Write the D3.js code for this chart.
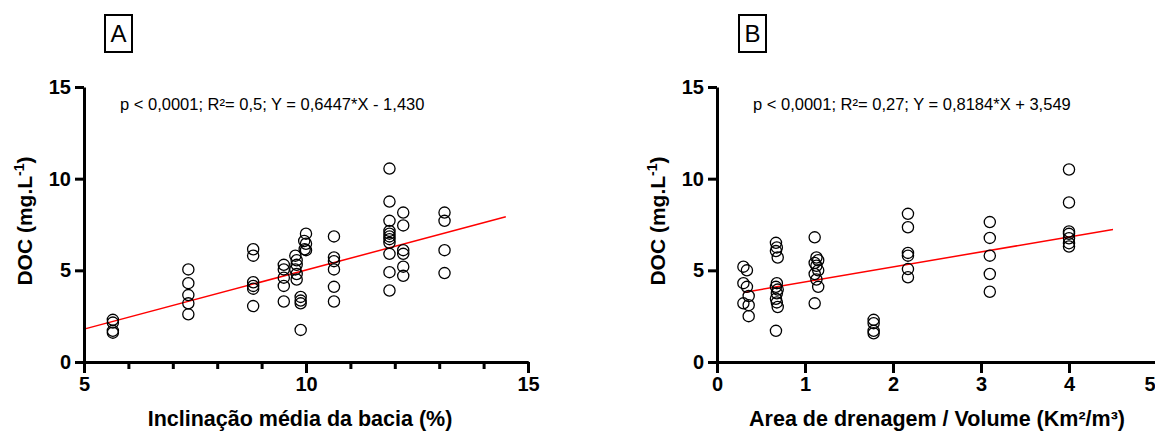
<!DOCTYPE html>
<html>
<head>
<meta charset="utf-8">
<script src="https://cdn.jsdelivr.net/npm/d3@7"></script>
<style>
  body { margin: 0; background: #fff; }
  text { font-family: Arial, "Liberation Sans", sans-serif; }
</style>
</head>
<body>
<div id="chart-area"></div>
<script>
// Panel A data: mean basin slope (%) vs DOC
var slopeA = [5.65, 5.65, 5.65, 5.65,
  7.35, 7.35, 7.35, 7.35, 7.35,
  8.81, 8.81, 8.81, 8.81, 8.81, 8.81,
  9.50, 9.50, 9.50, 9.50, 9.50,
  9.76, 9.79, 9.79, 9.76, 9.79, 9.79,
  9.88, 9.88, 9.88, 9.88,
  10.0, 9.96, 10.0, 9.97, 10.0,
  10.63, 10.63, 10.63, 10.63, 10.63, 10.63,
  11.88, 11.88, 11.88, 11.88, 11.88, 11.88, 11.88, 11.88, 11.88, 11.88, 11.88,
  12.19, 12.19, 12.19, 12.19, 12.19, 12.19,
  13.12, 13.12, 13.12, 13.12];
var docA = [2.3, 2.15, 1.7, 1.6,
  5.05, 4.3, 3.65, 3.2, 2.6,
  6.15, 5.8, 4.35, 4.15, 4.0, 3.05,
  5.3, 5.05, 4.6, 4.15, 3.3,
  5.8, 5.55, 5.3, 5.05, 4.8, 4.5,
  3.55, 3.35, 3.2, 1.75,
  7.0, 6.6, 6.45, 6.15, 6.1,
  6.85, 5.7, 5.5, 5.05, 4.1, 3.3,
  10.55, 8.75, 7.7, 7.15, 7.0, 6.85, 6.7, 6.5, 5.9, 4.9, 3.9,
  8.15, 7.45, 6.1, 5.9, 5.2, 4.7,
  8.15, 7.7, 6.1, 4.85];

// Panel B data: drainage area / volume vs DOC
var ratioB = [0.30, 0.34, 0.30, 0.34, 0.36, 0.30, 0.36, 0.36,
  0.67, 0.68, 0.67, 0.69, 0.68, 0.67, 0.69, 0.68, 0.67, 0.68, 0.69, 0.67,
  1.11, 1.13, 1.15, 1.11, 1.13, 1.15, 1.11, 1.13, 1.15, 1.11,
  1.78, 1.78, 1.78, 1.78,
  2.17, 2.17, 2.17, 2.17, 2.17, 2.17,
  3.10, 3.10, 3.10, 3.10, 3.10,
  4.00, 4.00, 4.00, 4.00, 4.00, 4.00, 4.00];
var docB = [5.2, 5.0, 4.3, 4.1, 3.6, 3.2, 3.1, 2.5,
  6.5, 6.25, 6.05, 5.7, 4.3, 4.1, 3.95, 3.75, 3.45, 3.25, 3.0, 1.7,
  6.8, 5.7, 5.55, 5.4, 5.25, 5.0, 4.8, 4.5, 4.1, 3.2,
  2.3, 2.12, 1.7, 1.57,
  8.08, 7.35, 5.95, 5.8, 5.07, 4.62,
  7.63, 6.77, 5.8, 4.8, 3.83,
  10.5, 8.7, 7.12, 6.99, 6.75, 6.48, 6.3];

// regression lines (slope, intercept, x start, x end)
var fitA = [0.6447, -1.430, 5, 14.5];
var fitB = [0.8184, 3.549, 0.3, 4.5];

var yTicks = [0, 5, 10, 15];
var xTicksA = [5, 10, 15];
var xMinorA = [6, 7, 8, 9, 11, 12, 13, 14];
var xTicksB = [0, 1, 2, 3, 4, 5];

var width = 1155;
var height = 436;

var svg = d3.select("#chart-area").append("svg").attr("width", width).attr("height", height);

var y = d3.scaleLinear().domain([0, 15]).range([362, 87]);

drawPanel = (p) => {
  var x = d3.scaleLinear().domain(p.domain).range(p.range);
  var g = svg.append("g");

  // panel letter box
  g.append("rect").attr("x", p.boxX).attr("y", 15).attr("width", 27).attr("height", 37)
    .attr("fill", "none").attr("stroke", "black").attr("stroke-width", 2);
  g.append("text").attr("x", p.boxX + 13.5).attr("y", 42).attr("text-anchor", "middle")
    .attr("font-size", "24px").text(p.letter);

  // regression line
  var f = p.fit;
  g.append("line").attr("x1", x(f[2])).attr("y1", y(f[0] * f[2] + f[1]))
    .attr("x2", x(f[3])).attr("y2", y(f[0] * f[3] + f[1]))
    .attr("stroke", "red").attr("stroke-width", 1.5);

  // points
  g.selectAll("circle.pt").data(p.xs).enter().append("circle").attr("class", "pt")
    .attr("cx", (d) => { return x(d); })
    .attr("cy", (d, i) => { return y(p.ys[i]); })
    .attr("r", 5.6).attr("fill", "none").attr("stroke", "black").attr("stroke-width", 1.3);

  // axes
  g.append("g").attr("transform", "translate(" + p.range[0] + ",0)")
    .call(d3.axisLeft(y).tickValues(yTicks).tickSize(9).tickSizeOuter(0).tickPadding(4));
  if (p.minor) {
    g.append("g").attr("transform", "translate(0," + y(0) + ")")
      .call(d3.axisBottom(x).tickValues(p.minor).tickSize(7).tickSizeOuter(0).tickFormat(""));
  }
  var xAxis = g.append("g").attr("transform", "translate(0," + y(0) + ")")
    .call(d3.axisBottom(x).tickValues(p.ticks).tickSize(11).tickSizeOuter(0).tickPadding(4)
      .tickFormat(d3.format("d")));
  g.selectAll(".domain").attr("stroke-width", 3).attr("stroke", "black");
  g.selectAll(".tick line").attr("stroke-width", 3).attr("stroke", "black");
  g.selectAll(".tick text").attr("font-family", "Arial, 'Liberation Sans', sans-serif")
    .attr("font-size", "20px").attr("font-weight", "bold").attr("fill", "black");
  // last label would run past the page edge: pull it inside
  xAxis.selectAll(".tick text").filter((d) => { return x(d) > width - 8; })
    .attr("text-anchor", "end").attr("x", width - x(p.domain[1]));

  // axis titles
  g.append("text").attr("x", p.titleX).attr("y", 426).attr("text-anchor", "middle")
    .attr("font-size", "21.5px").attr("font-weight", "bold").text(p.xTitle);

  var yl = g.append("text").attr("transform", "translate(" + (p.range[0] - 52) + ",221) rotate(-90)")
    .attr("text-anchor", "middle").attr("font-size", "21px").attr("font-weight", "bold");
  yl.append("tspan").text("DOC (mg.L");
  yl.append("tspan").attr("font-size", "14px").attr("dy", "-8").text("-1");
  yl.append("tspan").attr("dy", "8").text(")");

  // fit annotation
  g.append("text").attr("x", p.range[0] + 36).attr("y", 110).attr("font-size", "16.5px").text(p.note);
};

drawPanel({letter: "A", boxX: 105, domain: [5, 15], range: [84, 528], ticks: xTicksA, minor: xMinorA,
  xs: slopeA, ys: docA, fit: fitA, titleX: 300,
  xTitle: "Inclinação média da bacia (%)", note: "p < 0,0001; R²= 0,5; Y = 0,6447*X - 1,430"});

drawPanel({letter: "B", boxX: 739, domain: [0, 5], range: [717, 1157], ticks: xTicksB, minor: null,
  xs: ratioB, ys: docB, fit: fitB, titleX: 937,
  xTitle: "Area de drenagem / Volume (Km²/m³)", note: "p < 0,0001; R²= 0,27; Y = 0,8184*X + 3,549"});
</script>
</body>
</html>
